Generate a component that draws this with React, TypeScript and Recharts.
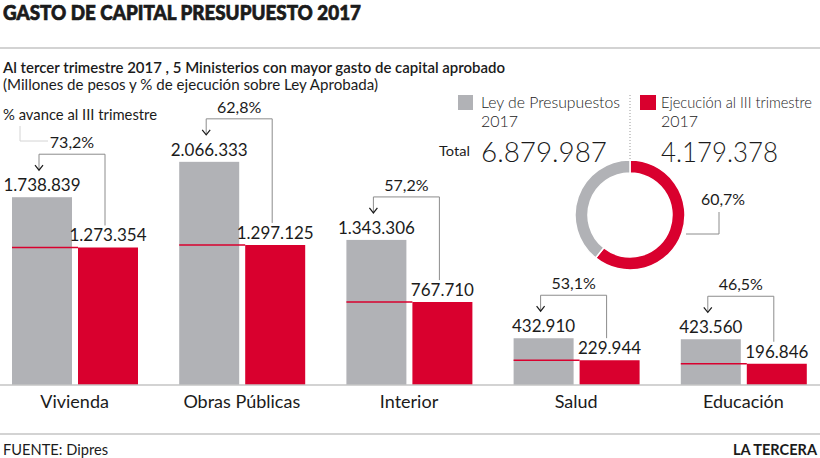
import React from "react";
import { Bar, BarChart, Cell, LabelList, Pie, PieChart, XAxis, YAxis } from "recharts";

const ministerios = ["Vivienda", "Obras Públicas", "Interior", "Salud", "Educación"];
const leyPresupuestos = [1738839, 2066333, 1343306, 432910, 423560];
const ejecucion = [1273354, 1297125, 767710, 229944, 196846];
const avance = ["73,2%", "62,8%", "57,2%", "53,1%", "46,5%"];

const totalLey = 6879987;
const totalEjecucion = 4179378;
const totalAvance = "60,7%";

const GRAY = "#b1b2b6";
const RED = "#d9002e";
const INK = "#1b1b1b";
const LINE = "#8c8c8c";
const FONT = "Lato, 'Open Sans', sans-serif";

const data = ministerios.map((m, i) => ({ name: m, ley: leyPresupuestos[i], ejecucion: ejecucion[i] }));
const donut = [
  { name: "Ejecución", value: totalEjecucion },
  { name: "Resto", value: totalLey - totalEjecucion },
];

const fmt = (n: number) => String(n).replace(/\B(?=(\d{3})+(?!\d))/g, ".");

function GrayBar(props: any) {
  const { x, y, width, height, payload } = props;
  const yRed = y + height * (1 - payload.ejecucion / payload.ley);
  return (
    <g>
      <rect x={x} y={y} width={width} height={height} fill={GRAY} />
      <line x1={x} x2={x + width + 6} y1={yRed} y2={yRed} stroke={RED} strokeWidth={1.5} />
    </g>
  );
}

function GrayLabel(props: any) {
  const { x, y, width, height, index } = props;
  const d = data[index];
  const cx = x + width / 2 - 3;
  const rx = x + width + 33;
  const top = y - 43;
  const redTop = y + height * (1 - d.ejecucion / d.ley);
  return (
    <g>
      <path
        d={`M${cx},${top + 16} L${cx},${top} L${rx},${top} L${rx},${redTop - 22}`}
        fill="none"
        stroke={LINE}
        strokeWidth={1}
      />
      <path d={`M${cx - 4},${top + 11} L${cx},${top + 16} L${cx + 4},${top + 11}`} fill="none" stroke={INK} strokeWidth={1.2} />
      <text x={(cx + rx) / 2} y={top - 6} textAnchor="middle" fontSize={16} fill={INK} fontFamily={FONT}>
        {avance[index]}
      </text>
      <text x={x + width / 2} y={y - 6} textAnchor="middle" fontSize={17} fill={INK} fontFamily={FONT}>
        {fmt(d.ley)}
      </text>
    </g>
  );
}

function RedLabel(props: any) {
  const { x, y, width, index } = props;
  return (
    <text x={x + width / 2} y={y - 6} textAnchor="middle" fontSize={17} fill={INK} fontFamily={FONT}>
      {fmt(data[index].ejecucion)}
    </text>
  );
}

function CatTick(props: any) {
  const { x, y, payload } = props;
  return (
    <text x={x} y={y} dy={15} textAnchor="middle" fontSize={18} fill={INK} fontFamily={FONT}>
      {payload.value}
    </text>
  );
}

export default function App() {
  return (
    <div style={{ position: "absolute", left: 0, top: 0, width: 820, height: 458, overflow: "hidden", background: "#fff" }}>
      <div style={{ position: "absolute", left: -9, top: 0 }}>
        <BarChart width={836} height={458} data={data} margin={{ top: 115, right: 0, bottom: 43, left: 0 }} barSize={60} barGap={6}>
          <YAxis hide domain={[0, 2500000]} />
          <XAxis dataKey="name" height={30} tickLine={false} axisLine={{ stroke: "#c4c4c4", strokeWidth: 1.5 }} tick={<CatTick />} interval={0} />
          <Bar dataKey="ley" shape={<GrayBar />} isAnimationActive={false}>
            <LabelList dataKey="ley" content={<GrayLabel />} />
          </Bar>
          <Bar dataKey="ejecucion" fill={RED} isAnimationActive={false}>
            <LabelList dataKey="ejecucion" content={<RedLabel />} />
          </Bar>
        </BarChart>
      </div>

      <div style={{ position: "absolute", left: 560, top: 145 }}>
        <PieChart width={140} height={140} margin={{ top: 0, right: 0, bottom: 0, left: 0 }}>
          <Pie
            data={donut}
            dataKey="value"
            cx={70}
            cy={70}
            innerRadius={42}
            outerRadius={55}
            startAngle={90}
            endAngle={-270}
            stroke="#fff"
            strokeWidth={1.5}
            isAnimationActive={false}
          >
            <Cell fill={RED} />
            <Cell fill={GRAY} />
          </Pie>
        </PieChart>
      </div>

      <svg width={820} height={458} style={{ position: "absolute", left: 0, top: 0, pointerEvents: "none" }} fontFamily={FONT}>
        <text
          x={3}
          y={20}
          fontSize={21}
          fontWeight={900}
          fill={INK}
          stroke={INK}
          strokeWidth={0.7}
          textLength={358}
          lengthAdjust="spacingAndGlyphs"
        >
          GASTO DE CAPITAL PRESUPUESTO 2017
        </text>
        <line x1={0} x2={820} y1={48} y2={48} stroke="#c4c4c4" strokeWidth={1.5} />
        <text x={3} y={73} fontSize={15} fontWeight={600} fill={INK} textLength={502} lengthAdjust="spacingAndGlyphs">
          Al tercer trimestre 2017 , 5 Ministerios con mayor gasto de capital aprobado
        </text>
        <text x={3} y={90} fontSize={15} fill={INK} textLength={375} lengthAdjust="spacingAndGlyphs">
          (Millones de pesos y % de ejecución sobre Ley Aprobada)
        </text>
        <text x={3} y={120} fontSize={15} fill={INK} textLength={154} lengthAdjust="spacingAndGlyphs">
          % avance al III trimestre
        </text>
        <path d="M20,126 L20,141 L48,141" fill="none" stroke="#d4d4d4" strokeWidth={1} />

        <rect x={458} y={95} width={15} height={15} fill={GRAY} />
        <text x={481} y={108} fontSize={16} fontWeight={300} fill={INK} textLength={139} lengthAdjust="spacingAndGlyphs">
          Ley de Presupuestos
        </text>
        <text x={481} y={127} fontSize={16} fontWeight={300} fill={INK}>2017</text>
        <line x1={630} x2={630} y1={95} y2={160} stroke="#999" strokeWidth={1} strokeDasharray="1 2" />
        <rect x={640} y={95} width={16} height={15} fill={RED} />
        <text x={661} y={108} fontSize={16} fontWeight={300} fill={INK} textLength={151} lengthAdjust="spacingAndGlyphs">
          Ejecución al III trimestre
        </text>
        <text x={661} y={127} fontSize={16} fontWeight={300} fill={INK}>2017</text>
        <text x={439} y={156} fontSize={14} fill={INK} textLength={31} lengthAdjust="spacingAndGlyphs">Total</text>
        <text x={481} y={162} fontSize={28} fontWeight={300} fill={INK} textLength={126} lengthAdjust="spacingAndGlyphs">
          {fmt(totalLey)}
        </text>
        <text x={661} y={162} fontSize={28} fontWeight={300} fill={INK} textLength={117} lengthAdjust="spacingAndGlyphs">
          {fmt(totalEjecucion)}
        </text>
        <path d="M686,234 L719,234 L719,212" fill="none" stroke={LINE} strokeWidth={1} />
        <text x={701} y={205} fontSize={16} fill={INK} textLength={44} lengthAdjust="spacingAndGlyphs">{totalAvance}</text>

        <line x1={0} x2={820} y1={434} y2={434} stroke="#c4c4c4" strokeWidth={1.5} />
        <text x={3} y={455} fontSize={15} fill={INK} textLength={105} lengthAdjust="spacingAndGlyphs">FUENTE: Dipres</text>
        <text x={817} y={455} fontSize={15} fontWeight={700} fill={INK} textAnchor="end" textLength={84} lengthAdjust="spacingAndGlyphs">
          LA TERCERA
        </text>
      </svg>
    </div>
  );
}
